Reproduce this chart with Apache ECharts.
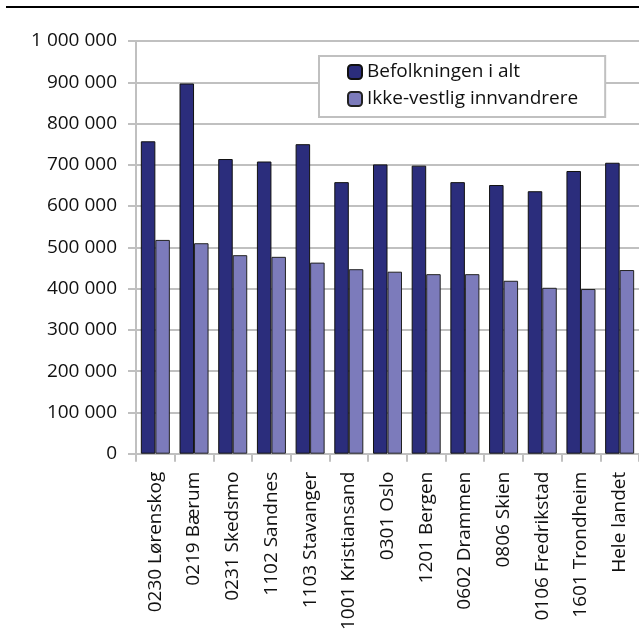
<!DOCTYPE html>
<html>
<head>
<meta charset="utf-8">
<script src="https://cdn.jsdelivr.net/npm/echarts@6/dist/echarts.min.js"></script>
<style>
html,body{margin:0;padding:0;background:#fff;}
#topline{position:absolute;left:6px;top:6px;width:633px;height:2px;background:#000;}
#chart{position:absolute;left:0;top:0;width:639px;height:633px;}
</style>
</head>
<body>
<div id="chart"></div>
<div id="topline"></div>
<script>
const categories = ["0230 Lørenskog","0219 Bærum","0231 Skedsmo","1102 Sandnes","1103 Stavanger","1001 Kristiansand","0301 Oslo","1201 Bergen","0602 Drammen","0806 Skien","0106 Fredrikstad","1601 Trondheim","Hele landet"];
const seriesNames = ["Befolkningen i alt","Ikke-vestlig innvandrere"];
const befolkning = [757000, 897000, 714000, 708000, 750000, 658000, 701000, 698000, 658000, 651000, 636000, 685000, 705000];
const ikkeVestlig = [518000, 510000, 481000, 477000, 463000, 447000, 441000, 435000, 435000, 419000, 402000, 399000, 445000];

const FONT = "Open Sans";
const FS = 19;
const chart = echarts.init(document.getElementById('chart'), null, {renderer:'canvas'});
const fmt = v => String(v).replace(/\B(?=(\d{3})+(?!\d))/g, ' ');
chart.setOption({
  animation:false,
  backgroundColor:'#fff',
  textStyle:{fontFamily:FONT},
  grid:{left:136, top:41, width:504, height:414, containLabel:false},
  legend:{
    orient:'vertical', left:319, top:56,
    backgroundColor:'#fff', borderColor:'#c0c0c0', borderWidth:2,
    padding:[6,27,8,28],
    itemWidth:14, itemHeight:14, itemGap:7,
    textStyle:{fontFamily:FONT, fontSize:FS, color:'#111', lineHeight:20},
    data:seriesNames
  },
  xAxis:{
    type:'category', data:categories,
    axisLine:{lineStyle:{color:'#c0c0c0', width:2}},
    axisTick:{show:true, length:8, lineStyle:{color:'#c0c0c0', width:2}},
    axisLabel:{rotate:90, margin:18, interval:0, fontFamily:FONT, fontSize:FS, color:'#111'}
  },
  yAxis:{
    type:'value', min:0, max:1000000, interval:100000,
    axisLine:{show:true, lineStyle:{color:'#c0c0c0', width:2}},
    axisTick:{show:true, length:8, lineStyle:{color:'#c0c0c0', width:2}},
    splitLine:{lineStyle:{color:'#c0c0c0', width:2}},
    axisLabel:{margin:19, fontFamily:FONT, fontSize:FS, color:'#111', formatter:fmt}
  },
  series:[
    {name:seriesNames[0], type:'bar', data:befolkning, barGap:'0%', barCategoryGap:'25%',
     itemStyle:{color:'#2b2d7c', borderColor:'#111', borderWidth:1}},
    {name:seriesNames[1], type:'bar', data:ikkeVestlig, barGap:'0%', barCategoryGap:'25%',
     itemStyle:{color:'#7c7bbb', borderColor:'#222', borderWidth:1}}
  ]
});
</script>
</body>
</html>
